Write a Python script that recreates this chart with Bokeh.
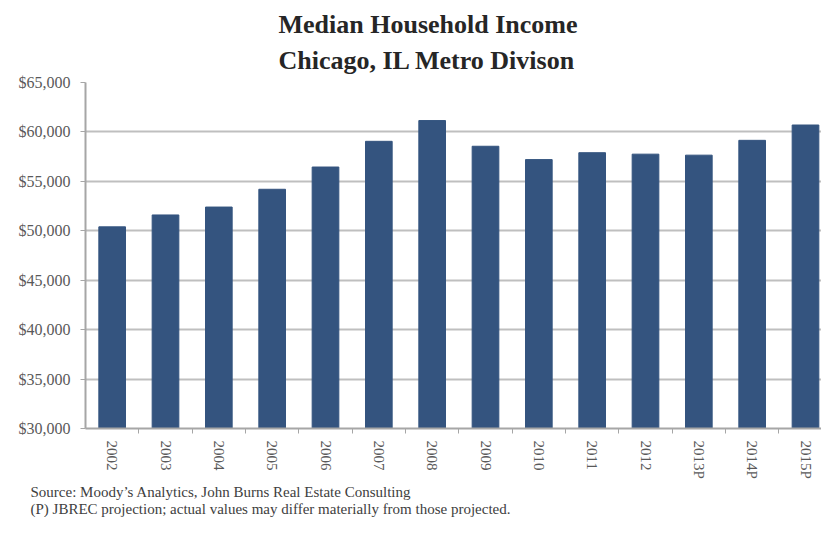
import numpy as np
from bokeh.plotting import figure
from bokeh.models import (Range1d, FixedTicker, NumeralTickFormatter, Title)
from bokeh.embed import file_html
from bokeh.resources import INLINE

years = ["2002", "2003", "2004", "2005", "2006", "2007", "2008", "2009",
         "2010", "2011", "2012", "2013P", "2014P", "2015P"]
income = [50400, 51600, 52400, 54200, 56450, 59050, 61150, 58550,
          57200, 57900, 57750, 57650, 59150, 60700]
y_ticks = [30000, 35000, 40000, 45000, 50000, 55000, 60000, 65000]
title_lines = ["Median Household Income", "Chicago, IL Metro Divison"]
source_lines = ["Source: Moody\u2019s Analytics, John Burns Real Estate Consulting",
                "(P) JBREC projection; actual values may differ materially from those projected."]

SERIF = "Liberation Serif"
GRAY = "#595959"

centers = [i + 0.5 for i in range(len(years))]
bounds = [float(i) for i in range(1, len(years))]

p = figure(width=821, height=517, output_backend="svg", toolbar_location=None,
           x_range=Range1d(0, 13.8), y_range=Range1d(30000, 65000),
           min_border_left=85, min_border_right=0, min_border_top=82,
           min_border_bottom=0)
p.outline_line_color = None
p.background_fill_color = "white"
p.border_fill_color = "white"

p.vbar(x=centers, top=income, bottom=30000, width=0.5, color="#34547F")

# two-line title
p.title.text = "\n".join(title_lines)
p.title.text_font = SERIF
p.title.text_font_size = "26px"
p.title.text_font_style = "bold"
p.title.text_color = "#262626"
p.title.text_line_height = 1.27
p.title.align = "left"
p.title.offset = 193
p.title.standoff = 14

# y axis
p.yaxis.ticker = FixedTicker(ticks=y_ticks)
p.yaxis.formatter = NumeralTickFormatter(format="$0,0")
p.yaxis.major_label_text_font = SERIF
p.yaxis.major_label_text_font_size = "16px"
p.yaxis.major_label_text_color = GRAY
p.yaxis.axis_line_color = "#a6a6a6"
p.yaxis.axis_line_width = 2
p.yaxis.major_tick_line_color = "#a6a6a6"
p.yaxis.major_tick_out = 5
p.yaxis.major_tick_in = 0
p.yaxis.minor_tick_line_color = None
p.yaxis.major_label_standoff = 10

# x axis
p.xaxis.ticker = FixedTicker(ticks=centers, minor_ticks=bounds)
p.xaxis.major_label_overrides = {c: y for c, y in zip(centers, years)}
p.xaxis.major_label_orientation = "vertical"
p.xaxis.major_label_text_font = SERIF
p.xaxis.major_label_text_font_size = "15px"
p.xaxis.major_label_text_color = GRAY
p.xaxis.axis_line_color = "#a6a6a6"
p.xaxis.axis_line_width = 2
p.xaxis.major_tick_line_color = None
p.xaxis.major_tick_out = 0
p.xaxis.major_tick_in = 0
p.xaxis.minor_tick_line_color = "#a6a6a6"
p.xaxis.minor_tick_out = 5
p.xaxis.minor_tick_in = 0
p.xaxis.major_label_standoff = 7

p.xgrid.grid_line_color = None
p.ygrid.ticker = FixedTicker(ticks=y_ticks)
p.ygrid.grid_line_color = "#bfbfbf"
p.ygrid.grid_line_width = 2

# source notes below the axis
p.add_layout(Title(text="\n".join(source_lines), text_font=SERIF,
                   text_font_size="15px", text_font_style="normal",
                   text_color="#404040", text_line_height=1.1,
                   align="left", offset=-55, standoff=0), "below")

open("out.html", "w").write(file_html(p, INLINE))
